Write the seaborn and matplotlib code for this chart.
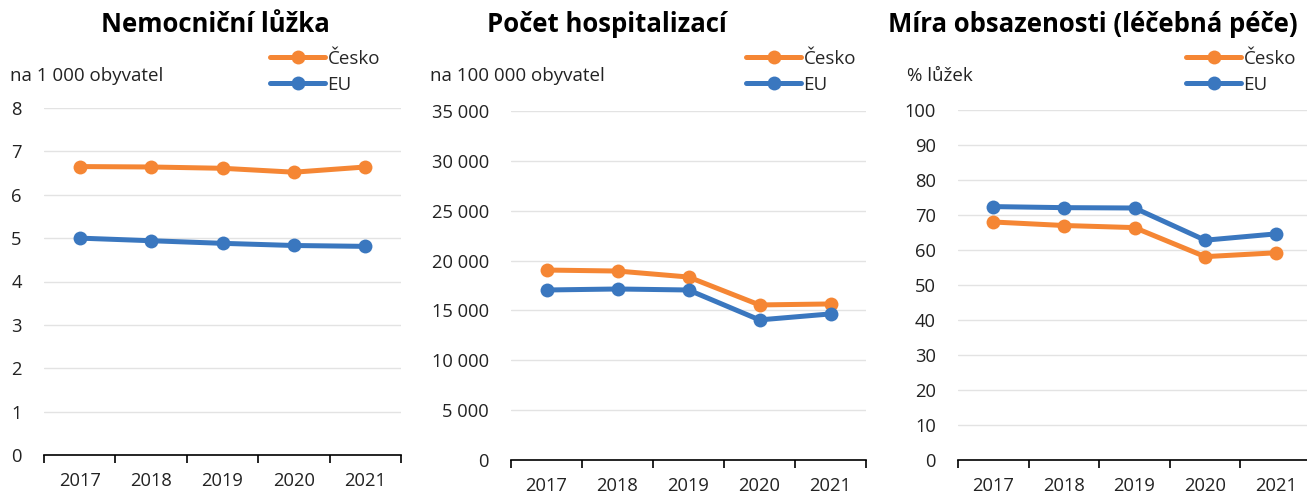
import matplotlib
matplotlib.use("Agg")
import matplotlib.pyplot as plt
from matplotlib.ticker import FuncFormatter, FixedLocator
import seaborn as sns
import pandas as pd

years = ["2017", "2018", "2019", "2020", "2021"]

beds_cz = [6.65, 6.64, 6.61, 6.52, 6.64]
beds_eu = [5.00, 4.94, 4.88, 4.83, 4.81]

hosp_cz = [19050, 18950, 18350, 15550, 15650]
hosp_eu = [17050, 17150, 17050, 14050, 14650]

occ_cz = [68.0, 67.0, 66.4, 58.1, 59.2]
occ_eu = [72.4, 72.1, 72.0, 62.8, 64.6]

titles = ["Nemocniční lůžka", "Počet hospitalizací", "Míra obsazenosti (léčebná péče)"]
units = ["na 1 000 obyvatel", "na 100 000 obyvatel", "% lůžek"]
y_max = [8, 35000, 100]
y_step = [1, 5000, 10]

ORANGE = "#F58634"
BLUE = "#3A77BF"

sns.set_theme(style="white")
plt.rcParams["font.family"] = ["Open Sans", "DejaVu Sans"]


def fmt_thousands(v, pos):
    return f"{int(round(v)):,}".replace(",", " ")


def draw_panel(fig, rect, cz, eu, title, unit, ymax, step, title_x, unit_x, leg_x):
    ax = fig.add_axes(rect)
    df = pd.DataFrame({
        "rok": years * 2,
        "hodnota": cz + eu,
        "zeme": ["Česko"] * len(years) + ["EU"] * len(years),
    })
    sns.lineplot(data=df, x="rok", y="hodnota", hue="zeme", palette=[ORANGE, BLUE],
                 marker="o", markersize=10, markeredgewidth=0, linewidth=3.6,
                 ax=ax, sort=False)
    ax.set_xlim(-0.5, len(years) - 0.5)
    ax.set_ylim(0, ymax)
    ax.yaxis.set_major_locator(FixedLocator(list(range(0, ymax + 1, step))))
    ax.yaxis.set_major_formatter(FuncFormatter(fmt_thousands))
    ax.grid(axis="y", color="#E3E3E3", linewidth=1)
    ax.set_axisbelow(True)
    for s in ["top", "right", "left"]:
        ax.spines[s].set_visible(False)
    ax.spines["bottom"].set_color("black")
    ax.spines["bottom"].set_linewidth(1.2)
    ax.set_xticks(range(len(years)))
    ax.set_xticklabels(years)
    ax.set_xticks([i - 0.5 for i in range(len(years) + 1)], minor=True)
    ax.tick_params(axis="x", which="major", length=0, pad=12, labelsize=13.2, colors="#222222")
    ax.tick_params(axis="x", which="minor", bottom=True, length=6, width=1.2, color="black")
    ax.tick_params(axis="y", length=0, pad=16, labelsize=13.2, colors="#222222")
    ax.set_xlabel("")
    ax.set_ylabel("")
    ax.legend(loc="upper right", bbox_to_anchor=(leg_x, 1 - 50 / 493),
              bbox_transform=fig.transFigure, frameon=False, fontsize=13.5,
              handlelength=2.9, handletextpad=0.15, labelspacing=0.4,
              borderpad=0, borderaxespad=0)
    fig.text(title_x, 1 - 25 / 493, title, ha="center", va="center",
             fontsize=18.5, fontweight="bold", color="black")
    fig.text(unit_x, 1 - 76 / 493, unit, ha="left", va="center", fontsize=13.5, color="#222222")
    return ax


fig = plt.figure(figsize=(13.07, 4.93), dpi=100)
W, H = 1307, 493

draw_panel(fig, [44 / W, 1 - 455 / H, 357 / W, 347 / H], beds_cz, beds_eu,
           titles[0], units[0], y_max[0], y_step[0], 215 / W, 10 / W, 380 / W)
draw_panel(fig, [511 / W, 1 - 460 / H, 355 / W, 349 / H], hosp_cz, hosp_eu,
           titles[1], units[1], y_max[1], y_step[1], 607 / W, 430 / W, 856 / W)
draw_panel(fig, [958 / W, 1 - 460 / H, 353 / W, 350 / H], occ_cz, occ_eu,
           titles[2], units[2], y_max[2], y_step[2], 1093 / W, 907 / W, 1296 / W)

fig.savefig("out.png", dpi=100)
